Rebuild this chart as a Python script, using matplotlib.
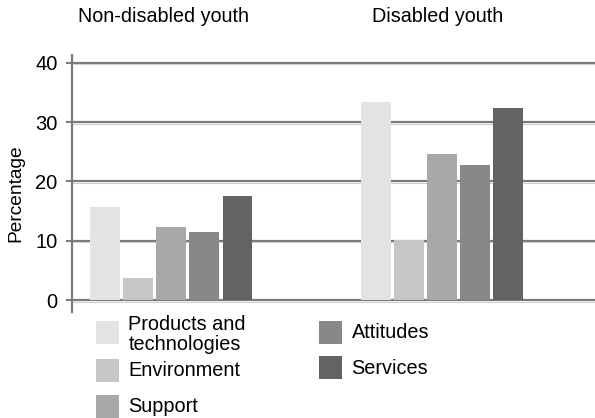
import matplotlib
matplotlib.use("Agg")
import matplotlib.pyplot as plt
from matplotlib.patches import Rectangle

plt.rcParams['font.family'] = ['Liberation Sans', 'DejaVu Sans']

# Data
groups = ["Non-disabled youth", "Disabled youth"]
categories = ["Products and\ntechnologies", "Environment", "Support", "Attitudes", "Services"]
non_disabled = [15.7, 3.7, 12.3, 11.5, 17.5]
disabled = [33.3, 10.2, 24.6, 22.7, 32.3]
yticks = [0, 10, 20, 30, 40]
colors = ["#e3e3e3", "#c6c6c6", "#a8a8a8", "#888888", "#636363"]

W, H = 595, 418
fig = plt.figure(figsize=(W / 100, H / 100), dpi=100)

def fx(px):
    return px / W

def fy(py):
    return 1 - py / H

ax = fig.add_axes([fx(72.3), fy(311.7), 1 - fx(72.3), fy(55) - fy(311.7)])

spacing = 0.1225
width = 0.1105
series = [non_disabled, disabled]
for gi, vals in enumerate(series):
    for ci, v in enumerate(vals):
        ax.bar(gi + (ci - 2) * spacing, v, width=width, color=colors[ci],
               zorder=3, linewidth=0)

grid_col = "#7a7a7a"
for t in yticks:
    ax.axhline(t, color=grid_col, lw=1.6, zorder=1)
    ax.axhline(t - 0.3, color="#d0d0d0", lw=0.8, zorder=1)

ax.set_xlim(-0.365, 1.565)
ax.set_ylim(-1.97, 41.3)
ax.set_yticks(yticks)
ax.set_xticks([])
for s in ["top", "right", "bottom"]:
    ax.spines[s].set_visible(False)
ax.spines["left"].set_color(grid_col)
ax.spines["left"].set_linewidth(1.6)
ax.tick_params(axis="y", length=4.5, width=1.4, color=grid_col, pad=6,
               labelsize=14.5, labelcolor="#000000")

txt = dict(color="#000000")
fig.text(fx(15.5), fy(193), "Percentage", rotation=90, ha="center", va="center",
         fontsize=13.8, **txt)

# Group headings
fig.text(fx(164), fy(17), groups[0], ha="center", va="center", fontsize=14.2, **txt)
fig.text(fx(437.5), fy(17), groups[1], ha="center", va="center", fontsize=14.2, **txt)

# Legend
sq = 23
legend_items = [
    (96, 320.7, 334.5, 0),
    (96, 359, 371, 1),
    (96, 395, 406, 2),
    (319, 321, 332.7, 3),
    (319, 356, 369, 4),
]
for x0, y0, ty, ci in legend_items:
    fig.patches.append(Rectangle((fx(x0), fy(y0 + sq)), sq / W, sq / H,
                                 transform=fig.transFigure, color=colors[ci],
                                 linewidth=0))
    fig.text(fx(x0 + 32.5), fy(ty), categories[ci], ha="left", va="center",
             fontsize=14.3, linespacing=1.05, **txt)

fig.savefig("out.png", dpi=100)
